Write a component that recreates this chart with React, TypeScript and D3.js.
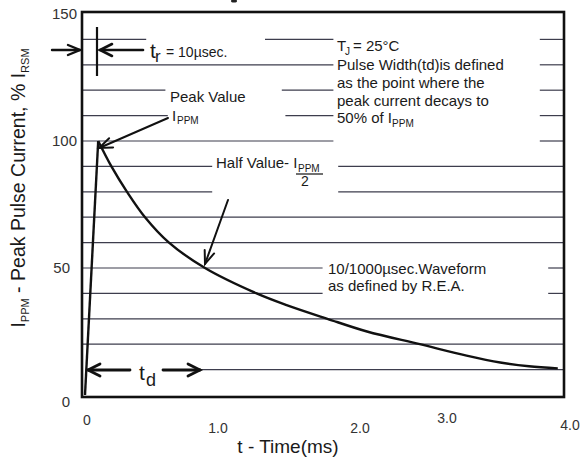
import React from "react";
import * as d3 from "d3";

// ---- data ----
const riseTime = [0, 0.11];
const riseValue = [0, 100];
const decayTime = [0.11, 0.22, 0.35, 0.5, 0.7, 1.0, 1.43, 1.68, 2.02, 2.35, 2.79, 3.18, 3.46, 3.7, 3.94];
const decayValue = [100, 90, 80, 70, 60, 50, 40, 35.4, 30, 25, 20, 15.5, 12.8, 11.3, 10.5];
const gridValues = [10, 20, 30, 40, 50, 60, 70, 80, 90, 100, 110, 120, 130, 140];
const yTickValues = [150, 100, 50, 0];
const yTickLabels = ["150", "100", "50", "0"];
const xTickValues = [0, 1, 2, 3, 4];
const xTickLabels = ["0", "1.0", "2.0", "3.0", "4.0"];

// ---- layout (pixels / gaps in time units) ----
const W = 584, H = 461;
const FONT = "'Liberation Sans', Arial, Helvetica, sans-serif";
const gridGaps: Record<number, [number, number][]> = {
  140: [[0.51, 1.5], [2.07, 3.79]],
  130: [[2.07, 3.79]],
  120: [[0.67, 1.64], [2.07, 3.79]],
  110: [[0.69, 1.67], [2.07, 3.79]],
  100: [[2.07, 3.79]],
  90: [[1.06, 2.11]],
  80: [[1.06, 2.11]],
  50: [[1.98, 3.86]],
  40: [[1.98, 3.86]],
  10: [[-0.1, 0.96]],
};
// label anchor placements (irregular in the scanned original)
const yLabelPos = [[77, 19], [77, 146], [70, 273], [70, 407]];
const xLabelPos = [[87, 425], [218, 433], [360, 433], [447, 423], [570, 430]];

function Arrow({ x1, y1, x2, y2, len = 12, half = 5, w = 2 }: any) {
  const a = Math.atan2(y2 - y1, x2 - x1);
  const c = Math.cos(a), s = Math.sin(a);
  const p1 = [x2 - len * c + half * s, y2 - len * s - half * c];
  const p2 = [x2 - len * c - half * s, y2 - len * s + half * c];
  return (
    <g stroke="#111" strokeWidth={w} fill="none" strokeLinecap="round">
      <line x1={x1} y1={y1} x2={x2} y2={y2} />
      <path d={`M${p1[0]},${p1[1]} L${x2},${y2} L${p2[0]},${p2[1]}`} />
    </g>
  );
}

export default function App() {
  const x = d3.scaleLinear().domain([0, 4]).range([85, 565]);
  const y = d3.scaleLinear().domain([0, 150]).range([395, 14]);
  const frameL = 82, frameR = 564, frameT = y(150) - 2, frameB = y(0) + 2;

  const line = d3
    .line<[number, number]>()
    .x((d) => x(d[0]))
    .y((d) => y(d[1]));
  const riseD = line(riseTime.map((t, i) => [t, riseValue[i]]) as [number, number][]);
  const decayD = line.curve(d3.curveCatmullRom.alpha(0.5))(
    decayTime.map((t, i) => [t, decayValue[i]]) as [number, number][]
  );

  // gridline segments
  const gridSegs: { v: number; a: number; b: number }[] = [];
  gridValues.forEach((v) => {
    const gaps = (gridGaps[v] || []).map(([g0, g1]) => [Math.max(frameL, x(g0)), x(g1)]);
    let start = frameL;
    gaps.forEach(([g0, g1]) => {
      if (g0 > start) gridSegs.push({ v, a: start, b: g0 });
      start = g1;
    });
    if (start < frameR) gridSegs.push({ v, a: start, b: frameR });
  });

  const txt = { fontFamily: FONT, fill: "#1a1a1a" } as const;

  return (
    <svg
      width={W}
      height={H}
      style={{ position: "absolute", left: 0, top: 0, background: "#fff" }}
    >
      <rect x={0} y={0} width={W} height={H} fill="#fff" />
      {/* speck of the cut-off title above the chart */}
      <ellipse cx={234} cy={1} rx={3} ry={1.6} fill="#222" />

      {/* gridlines */}
      {gridSegs.map((s, i) => (
        <line key={i} x1={s.a} x2={s.b} y1={y(s.v)} y2={y(s.v)} stroke="#3d3d4d" strokeWidth={1.2} />
      ))}

      {/* frame */}
      <rect x={frameL} y={frameT} width={frameR - frameL} height={frameB - frameT} fill="none" stroke="#111" strokeWidth={2.6} />

      {/* waveform */}
      <path d={riseD || ""} fill="none" stroke="#111" strokeWidth={2.4} />
      <path d={decayD || ""} fill="none" stroke="#111" strokeWidth={2.4} />

      {/* y tick labels */}
      {yTickValues.map((v, i) => (
        <text key={v} x={yLabelPos[i][0]} y={yLabelPos[i][1]} fontSize={15} textAnchor="end" {...txt} fill="#333">
          {yTickLabels[i]}
        </text>
      ))}
      {/* x tick labels */}
      {xTickValues.map((v, i) => (
        <text key={v} x={xLabelPos[i][0]} y={xLabelPos[i][1]} fontSize={14} textAnchor="middle" {...txt} fill="#333">
          {xTickLabels[i]}
        </text>
      ))}

      {/* axis titles */}
      <text x={288} y={453} fontSize={19} textAnchor="middle" {...txt}>t - Time(ms)</text>
      <text transform="translate(25,188) rotate(-90)" fontSize={19.5} textAnchor="middle" {...txt}>
        I<tspan fontSize={11} dy={4}>PPM</tspan>
        <tspan dy={-4}> - Peak Pulse Current, % I</tspan>
        <tspan fontSize={11} dy={4}>RSM</tspan>
      </text>

      {/* t_r annotation */}
      <Arrow x1={52} y1={50} x2={80} y2={50} len={12} half={5} w={2.4} />
      <line x1={97} x2={97} y1={27} y2={76} stroke="#111" strokeWidth={2.2} />
      <Arrow x1={143} y1={50} x2={100} y2={50} len={12} half={6} w={2.6} />
      <text x={150} y={58} fontSize={21} {...txt}>t</text>
      <text x={155} y={62} fontSize={17} {...txt}>r</text>
      <text x={166} y={57} fontSize={14} {...txt}>= 10µsec.</text>

      {/* peak value */}
      <text x={170} y={102} fontSize={15} {...txt}>Peak Value</text>
      <text x={172} y={121} fontSize={15} {...txt}>I</text>
      <text x={177} y={124} fontSize={10} {...txt}>PPM</text>
      <Arrow x1={168} y1={118} x2={x(riseTime[1]) + 1} y2={y(riseValue[1]) + 7} len={13} half={5} w={2} />

      {/* right description */}
      <text x={337} y={51} fontSize={15} {...txt}>T</text>
      <text x={345} y={55} fontSize={10} {...txt}>J</text>
      <text x={353} y={51} fontSize={15} {...txt}>= 25°C</text>
      <text x={337} y={70} fontSize={15} {...txt}>Pulse Width(td)is defined</text>
      <text x={337} y={88} fontSize={15} {...txt}>as the point where the</text>
      <text x={337} y={106} fontSize={15} {...txt}>peak current decays to</text>
      <text x={337} y={123} fontSize={15} {...txt}>50% of I<tspan fontSize={10} dy={4}>PPM</tspan></text>

      {/* half value */}
      <text x={216} y={168} fontSize={15} {...txt}>Half Value- I</text>
      <text x={298} y={172} fontSize={10} {...txt}>PPM</text>
      <line x1={296} x2={323} y1={174} y2={174} stroke="#111" strokeWidth={1.2} />
      <text x={305} y={186} fontSize={14} textAnchor="middle" {...txt}>2</text>
      <Arrow x1={228} y1={200} x2={x(decayTime[5])} y2={y(decayValue[5]) - 4} len={13} half={5} w={2} />

      {/* waveform description */}
      <text x={328} y={274} fontSize={15} {...txt}>10/1000µsec.Waveform</text>
      <text x={328} y={291} fontSize={15} {...txt}>as defined by R.E.A.</text>

      {/* t_d annotation */}
      <Arrow x1={130} y1={370} x2={88} y2={370} len={12} half={6} w={2.8} />
      <Arrow x1={163} y1={370} x2={200} y2={370} len={12} half={6} w={2.8} />
      <text x={139} y={380} fontSize={21} {...txt}>t</text>
      <text x={146} y={386} fontSize={18} {...txt}>d</text>
    </svg>
  );
}
